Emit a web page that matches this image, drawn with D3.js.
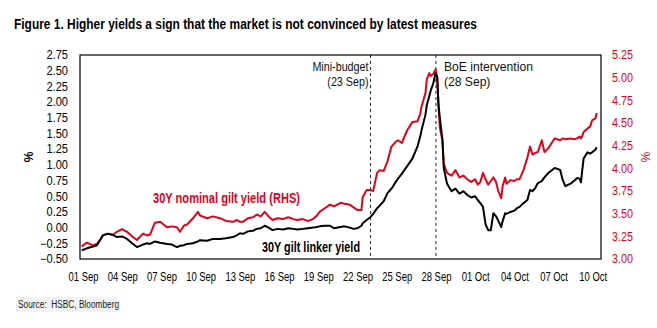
<!DOCTYPE html>
<html>
<head>
<meta charset="utf-8">
<script src="https://cdn.jsdelivr.net/npm/d3@7"></script>
<style>
  body { margin: 0; background: #fff; }
  svg text { font-family: 'Liberation Sans', Arial, sans-serif; }
</style>
</head>
<body>
<div id="chart"></div>
<script>
// days since 01 Sep 2022 (fractional, intraday)
const dayOffsets = [
  -0.1, 0.3, 0.77, 1.07, 1.3, 1.53, 1.91, 2.3, 2.6, 2.98, 3.37, 3.75, 4.13, 4.59, 4.9, 5.13, 5.5, 5.9,
  6.43, 6.8, 7.19, 7.42, 7.73, 7.96, 8.42, 8.8, 8.95, 9.49, 9.95, 10.48, 10.94, 11.48, 11.78, 12.01,
  12.24, 12.62, 13.0, 13.3, 13.6, 13.9, 14.2, 14.5, 14.9, 15.3, 15.7, 16.1, 16.4, 16.8, 17.2, 17.6,
  17.9, 18.1, 18.5, 18.9, 19.2, 19.7, 20.0, 20.4, 20.7, 21.0, 21.3, 21.4, 21.7, 22.0, 22.2, 22.5,
  22.7, 23.0, 23.3, 23.6, 23.9, 24.1, 24.4, 24.8, 25.2, 25.6, 25.8, 25.9, 26.2, 26.3, 26.5, 26.6,
  26.8, 26.97, 27.1, 27.2, 27.3, 27.5, 27.6, 27.85, 28.2, 28.5, 28.8, 29.1, 29.4, 29.7, 30.0, 30.2,
  30.4, 30.6, 30.8, 31.0, 31.2, 31.4, 31.6, 31.75, 32.0, 32.1, 32.3, 32.4, 32.7, 33.0, 33.2, 33.4,
  33.7, 34.0, 34.2, 34.4, 34.6, 34.8, 35.1, 35.3, 35.6, 35.9, 36.1, 36.5, 36.7, 36.9, 37.3, 37.6,
  37.8, 38.0, 38.1, 38.2, 38.3, 38.6, 38.8, 38.95, 39.2, 39.3
];

// 30Y gilt linker yield (%, LHS)
const linkerYield = [
  -0.36, -0.33, -0.30, -0.28, -0.20, -0.12, -0.10, -0.12, -0.15, -0.14, -0.18, -0.25, -0.31, -0.27, -0.25, -0.26, -0.22, -0.24,
  -0.26, -0.27, -0.31, -0.29, -0.28, -0.26, -0.25, -0.22, -0.20, -0.21, -0.18, -0.18, -0.17, -0.15, -0.12, -0.09,
  -0.10, -0.06, -0.05, -0.02, -0.01, 0.03, 0.00, -0.04, -0.02, -0.03, -0.01, -0.02, -0.03, -0.02, -0.01, 0.00,
  0.01, 0.02, 0.03, 0.03, -0.01, 0.01, 0.02, 0.00, -0.02, -0.01, 0.03, 0.07, 0.12, 0.17, 0.22, 0.31,
  0.35, 0.42, 0.55, 0.62, 0.72, 0.78, 0.86, 0.98, 1.10, 1.30, 1.45, 1.55, 1.80, 1.95, 2.10, 2.18,
  2.30, 2.46, 2.40, 1.95, 1.75, 1.40, 0.95, 0.70, 0.58, 0.62, 0.54, 0.58, 0.52, 0.48, 0.50, 0.44,
  0.39, 0.33, 0.05, -0.04, -0.04, 0.23, 0.18, 0.12, 0.01, 0.10, 0.23, 0.22, 0.25, 0.27, 0.31, 0.33,
  0.39, 0.44, 0.60, 0.58, 0.63, 0.71, 0.74, 0.80, 0.87, 0.92, 0.95, 0.92, 0.76, 0.66, 0.70, 0.75,
  0.79, 0.78, 0.72, 0.92, 1.10, 1.20, 1.18, 1.20, 1.24, 1.28
];

// 30Y nominal gilt yield (%, RHS)
const nominalYield = [
  3.14, 3.18, 3.15, 3.17, 3.21, 3.26, 3.28, 3.27, 3.30, 3.33, 3.30, 3.25, 3.21, 3.28, 3.26, 3.27, 3.40, 3.41,
  3.35, 3.36, 3.35, 3.30, 3.37, 3.38, 3.45, 3.52, 3.48, 3.45, 3.47, 3.45, 3.42, 3.41, 3.43, 3.41,
  3.41, 3.45, 3.46, 3.49, 3.47, 3.52, 3.47, 3.43, 3.45, 3.44, 3.46, 3.44, 3.43, 3.44, 3.42, 3.44,
  3.48, 3.52, 3.56, 3.60, 3.58, 3.62, 3.61, 3.60, 3.57, 3.54, 3.54, 3.68, 3.76, 3.76, 3.75, 3.95,
  3.98, 3.97, 4.08, 4.24, 4.29, 4.31, 4.28, 4.42, 4.51, 4.52, 4.60, 4.68, 4.83, 4.98, 5.05, 5.02,
  5.04, 5.09, 5.00, 4.68, 4.45, 4.30, 4.05, 3.95, 3.92, 3.98, 3.90, 3.92, 3.88, 3.85, 3.88, 3.82,
  3.85, 3.95, 3.88, 3.82, 3.86, 3.90, 3.85, 3.76, 3.67, 3.80, 3.90, 3.83, 3.87, 3.86, 3.88, 3.88,
  3.98, 4.12, 4.24, 4.15, 4.17, 4.18, 4.31, 4.18, 4.22, 4.29, 4.33, 4.31, 4.33, 4.32, 4.33, 4.32,
  4.33, 4.35, 4.33, 4.36, 4.40, 4.44, 4.46, 4.53, 4.55, 4.61
];

const xTickDates = ["2022-09-01", "2022-09-04", "2022-09-07", "2022-09-10", "2022-09-13", "2022-09-16",
  "2022-09-19", "2022-09-22", "2022-09-25", "2022-09-28", "2022-10-01", "2022-10-04", "2022-10-07", "2022-10-10"];
const leftTicks = [-0.5, -0.25, 0, 0.25, 0.5, 0.75, 1, 1.25, 1.5, 1.75, 2, 2.25, 2.5, 2.75];
const rightTicks = [3, 3.25, 3.5, 3.75, 4, 4.25, 4.5, 4.75, 5, 5.25];

const events = [
  { date: "2022-09-23", lines: ["Mini-budget", "(23 Sep)"], side: "left" },
  { date: "2022-09-28", lines: ["BoE intervention", "(28 Sep)"], side: "right" }
];

const width = 657, height = 328;
const margin = { top: 55, right: 56, bottom: 69, left: 80 };
const red = '#e2001a';

const parseDate = d3.utcParse('%Y-%m-%d');
const start = Date.UTC(2022, 8, 1);
const toDate = d => new Date(start + d * 864e5);

const data = dayOffsets.map((d, i) => ({ t: toDate(d), linker: linkerYield[i], nominal: nominalYield[i] }));

// narrow the text horizontally (source chart uses a condensed face)
function squeeze(sel, factor) {
  sel.each(function () {
    const w = this.getComputedTextLength();
    d3.select(this).attr('textLength', w * factor).attr('lengthAdjust', 'spacingAndGlyphs');
  });
}

const svg = d3.select('#chart').append('svg')
  .attr('width', width)
  .attr('height', height);

// Title
svg.append('text')
  .attr('x', 14).attr('y', 29)
  .attr('font-size', 14)
  .attr('font-weight', 'bold')
  .attr('fill', '#000')
  .attr('textLength', 463).attr('lengthAdjust', 'spacingAndGlyphs')
  .text('Figure 1. Higher yields a sign that the market is not convinced by latest measures');

const x = d3.scaleUtc()
  .domain([toDate(-0.23), toDate(39.63)])
  .range([margin.left, width - margin.right]);

const yL = d3.scaleLinear().domain([-0.5, 2.75]).range([height - margin.bottom, margin.top]);
const yR = d3.scaleLinear().domain([3, 5.25]).range([height - margin.bottom, margin.top]);

// Event lines
events.forEach(ev => {
  const xp = x(parseDate(ev.date));
  svg.append('line')
    .attr('x1', xp).attr('x2', xp)
    .attr('y1', margin.top).attr('y2', height - margin.bottom)
    .attr('stroke', '#222').attr('stroke-width', 1)
    .attr('stroke-dasharray', '3,3');
  const tx = ev.side === 'left' ? xp - 2 : xp + 8;
  const t = svg.append('text')
    .attr('x', tx)
    .attr('y', 71)
    .attr('font-size', 12.5)
    .attr('text-anchor', ev.side === 'left' ? 'end' : 'start')
    .attr('fill', '#111');
  ev.lines.forEach((l, i) => t.append('tspan')
    .attr('x', tx)
    .attr('dy', i === 0 ? 0 : 15)
    .text(l));
  squeeze(t.selectAll('tspan'), ev.side === 'left' ? 0.86 : 0.97);
});

// Lines
const lineL = d3.line().x(d => x(d.t)).y(d => yL(d.linker));
const lineR = d3.line().x(d => x(d.t)).y(d => yR(d.nominal));

svg.append('path').datum(data)
  .attr('d', lineR).attr('fill', 'none')
  .attr('stroke', red).attr('stroke-width', 2).attr('stroke-linejoin', 'round');

svg.append('path').datum(data)
  .attr('d', lineL).attr('fill', 'none')
  .attr('stroke', '#000').attr('stroke-width', 2).attr('stroke-linejoin', 'round');

// Plot frame
svg.append('rect')
  .attr('x', margin.left).attr('y', margin.top)
  .attr('width', width - margin.left - margin.right)
  .attr('height', height - margin.top - margin.bottom)
  .attr('fill', 'none').attr('stroke', '#000').attr('stroke-width', 1.2);

// Axes
const leftAxis = svg.append('g')
  .attr('transform', `translate(${margin.left - 10},0)`)
  .call(d3.axisLeft(yL).tickValues(leftTicks).tickSize(0).tickPadding(2).tickFormat(d3.format('.2f')));
leftAxis.select('.domain').remove();
leftAxis.selectAll('text').attr('font-size', 12).attr('fill', '#000').attr('font-family', null);
squeeze(leftAxis.selectAll('text'), 0.92);

const rightAxis = svg.append('g')
  .attr('transform', `translate(${width - margin.right + 11},0)`)
  .call(d3.axisRight(yR).tickValues(rightTicks).tickSize(0).tickPadding(0).tickFormat(d3.format('.2f')));
rightAxis.select('.domain').remove();
rightAxis.selectAll('text').attr('font-size', 12).attr('fill', red).attr('font-family', null);
squeeze(rightAxis.selectAll('text'), 0.9);

const bottomAxis = svg.append('g')
  .attr('transform', `translate(0,${height - margin.bottom})`)
  .call(d3.axisBottom(x).tickValues(xTickDates.map(parseDate)).tickSize(0).tickPadding(12)
    .tickFormat(d3.utcFormat('%d %b')));
bottomAxis.select('.domain').remove();
bottomAxis.selectAll('text').attr('font-size', 13.5).attr('fill', '#000').attr('font-family', null);
squeeze(bottomAxis.selectAll('text'), 0.7);

// Axis titles
svg.append('text')
  .attr('transform', 'translate(33,157) rotate(-90)')
  .attr('text-anchor', 'middle').attr('font-size', 12).attr('font-weight', 'bold')
  .text('%');
svg.append('text')
  .attr('transform', 'translate(641,157) rotate(90)')
  .attr('text-anchor', 'middle').attr('font-size', 12).attr('fill', red)
  .text('%');

// Series labels
svg.append('text')
  .attr('x', 153).attr('y', 203)
  .attr('font-size', 14).attr('font-weight', 'bold').attr('fill', red)
  .attr('textLength', 147).attr('lengthAdjust', 'spacingAndGlyphs')
  .text('30Y nominal gilt yield (RHS)');
svg.append('text')
  .attr('x', 262).attr('y', 252)
  .attr('font-size', 14).attr('font-weight', 'bold').attr('fill', '#000')
  .attr('textLength', 98).attr('lengthAdjust', 'spacingAndGlyphs')
  .text('30Y gilt linker yield');

// Source
svg.append('rect')
  .attr('x', 16).attr('y', 297).attr('width', 101).attr('height', 15)
  .attr('fill', '#f2f2f2');
svg.append('text')
  .attr('x', 18).attr('y', 308)
  .attr('font-size', 10).attr('fill', '#222')
  .attr('xml:space', 'preserve')
  .text('Source:  HSBC, Bloomberg')
  .call(squeeze, 0.83);
</script>
</body>
</html>
